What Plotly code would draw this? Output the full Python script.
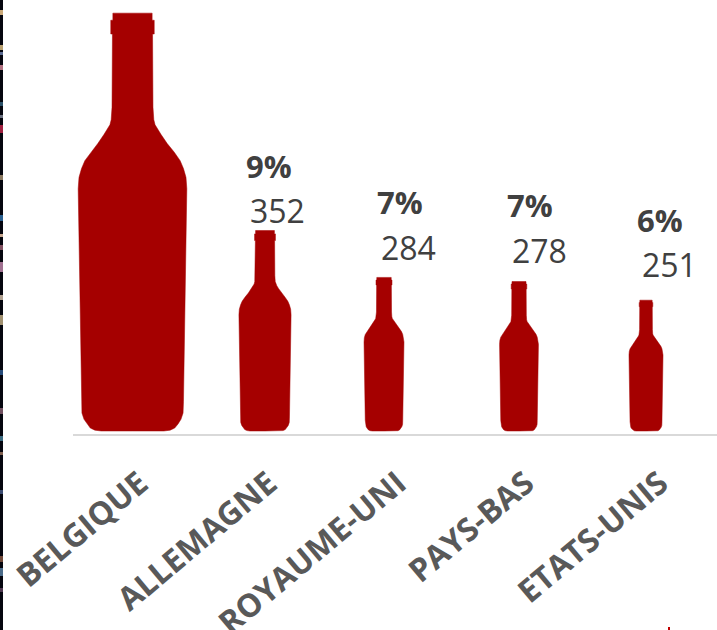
import plotly.graph_objects as go

# Export volumes by destination
countries = ["BELGIQUE", "ALLEMAGNE", "ROYAUME-UNI", "PAYS-BAS", "ETATS-UNIS"]
volumes = [667, 352, 284, 278, 251]
share_labels = ["", "9%", "7%", "7%", "6%"]
value_labels = ["", "352", "284", "278", "251"]

# Horizontal placement, in pixel-like axis units
bottle_centres = [132.5, 265, 384, 519, 646]
label_anchors = [140, 269, 398, 526, 660]
share_xy = [None, (269, 166), (400, 202.5), (530, 205.5), (660, 219.5)]
value_xy = [None, (277, 211), (408, 247.5), (539, 250.5), (669, 264.5)]

W, H = 717, 630
AXIS_LEFT = 73
AXIS_Y = 434
BASE_Y = 431
PX_PER_UNIT = 0.69
Y_FLOOR = 61.4
WINE = "#A50000"
INK = "#404040"

# Right half of the silhouette: (half width, height), both as fractions of bottle height
BOTTLE_HALF = [
    (0.000, 0.000), (0.075, 0.000), (0.090, 0.002), (0.101, 0.007), (0.109, 0.017),
    (0.116, 0.028), (0.121, 0.043), (0.122, 0.070), (0.130, 0.580), (0.128, 0.607),
    (0.122, 0.628), (0.114, 0.647), (0.100, 0.667), (0.083, 0.688), (0.068, 0.710),
    (0.059, 0.724), (0.054, 0.733), (0.051, 0.745), (0.049, 0.775), (0.048, 0.950),
    (0.052, 0.950), (0.052, 0.983), (0.047, 0.983), (0.047, 1.000),
]


def bottle_outline(centre, volume):
    """Closed outline of a bottle whose height is set by the volume on the y scale."""
    span = volume - Y_FLOOR
    height_px = span * PX_PER_UNIT
    right = [(centre + w * height_px, Y_FLOOR + t * span) for w, t in BOTTLE_HALF]
    left = [(2 * centre - x, y) for x, y in reversed(right)]
    pts = right + left
    return [p[0] for p in pts], [p[1] for p in pts]


fig = go.Figure()
for name, centre, volume in zip(countries, bottle_centres, volumes):
    xs, ys = bottle_outline(centre, volume)
    fig.add_trace(go.Scatter(
        x=xs, y=ys, name=name, mode="lines", fill="toself",
        fillcolor=WINE, line=dict(color=WINE, width=0.5), hoverinfo="name",
    ))


def px_x(px):
    return px / W


def px_y(py):
    return 1 - py / H


annotations = []
for text, pos, bold in [(t, p, True) for t, p in zip(share_labels, share_xy)] + \
                       [(t, p, False) for t, p in zip(value_labels, value_xy)]:
    if pos is None:
        continue
    annotations.append(dict(
        text=f"<b>{text}</b>" if bold else text,
        x=px_x(pos[0]), y=px_y(pos[1]), xref="paper", yref="paper",
        xanchor="center", yanchor="middle", showarrow=False,
        font=dict(family="Open Sans", size=31 if bold else 32, color=INK),
    ))

# Photographic strip along the left edge and the stray red tick at the foot
strip = [dict(type="rect", xref="paper", yref="paper", x0=0, x1=px_x(3), y0=0, y1=1,
              fillcolor="#05060F", line_width=0, layer="above")]
sparkles = [
    (10, "#C9A878", 5), (45, "#B8A070", 5), (52, "#5A6A90", 3), (65, "#B07080", 5),
    (102, "#2A5068", 4), (115, "#6A7080", 3), (125, "#A02040", 8), (175, "#8A7860", 5),
    (215, "#2A6090", 6), (234, "#C8A890", 3), (245, "#805060", 5), (262, "#A07090", 10),
    (295, "#B0A090", 5), (315, "#A09070", 10), (370, "#254A78", 5), (408, "#705060", 6),
    (436, "#3A6A80", 5), (452, "#806050", 3), (490, "#3A4A70", 4), (556, "#704838", 6),
    (568, "#4A6A88", 8), (588, "#503850", 4),
]
for y, colour, size in sparkles:
    strip.append(dict(type="rect", xref="paper", yref="paper", x0=0, x1=px_x(3),
                      y0=px_y(y + size), y1=px_y(y), fillcolor=colour, line_width=0, layer="above"))
strip.append(dict(type="rect", xref="paper", yref="paper", x0=px_x(668), x1=px_x(670),
                  y0=0, y1=px_y(627), fillcolor="#C00000", line_width=0))

fig.update_layout(
    width=W, height=H, margin=dict(l=0, r=0, t=0, b=0, pad=0),
    paper_bgcolor="white", plot_bgcolor="white", showlegend=False,
    annotations=annotations, shapes=strip,
    xaxis=dict(
        domain=[AXIS_LEFT / W, 1], range=[AXIS_LEFT, W], tickmode="array", automargin=False,
        tickvals=label_anchors, ticktext=countries, tickangle=-40, ticks="",
        ticklabelstandoff=16,
        tickfont=dict(family="Open Sans", size=32, color="#595959", weight="bold"),
        showgrid=False, zeroline=False, showline=True, linecolor="#D9D9D9", linewidth=2,
        fixedrange=True,
    ),
    yaxis=dict(
        domain=[(H - AXIS_Y) / H, 1], automargin=False,
        range=[Y_FLOOR - (AXIS_Y - BASE_Y) / PX_PER_UNIT, Y_FLOOR + BASE_Y / PX_PER_UNIT],
        visible=False, fixedrange=True,
    ),
)

fig.write_html("out.html", config=dict(displayModeBar=False))
